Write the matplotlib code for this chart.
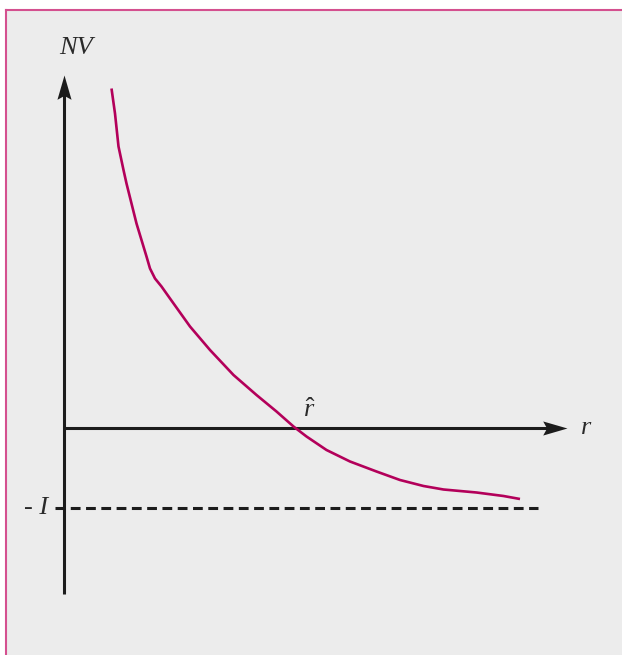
import matplotlib
matplotlib.use("Agg")
import matplotlib.pyplot as plt
from matplotlib.patches import Rectangle
from matplotlib.lines import Line2D
from matplotlib.path import Path

plt.rcParams['mathtext.fontset'] = 'custom'
plt.rcParams['mathtext.it'] = 'Liberation Serif:italic'
plt.rcParams['mathtext.rm'] = 'Liberation Serif'

# Net value curve NV(r), in arbitrary units
r_vals = [0.95, 1.02, 1.09, 1.19, 1.25, 1.35, 1.45, 1.55, 1.65, 1.72, 1.82,
          1.95, 2.12, 2.52, 2.92, 3.39, 3.85, 4.25, 4.59, 4.85, 5.25, 5.72,
          6.25, 6.72, 7.19, 7.59, 8.25, 8.79, 9.12]
nv_vals = [6.79, 6.29, 5.63, 5.16, 4.89, 4.49, 4.09, 3.76, 3.43, 3.19, 2.99,
           2.83, 2.59, 2.03, 1.56, 1.06, 0.66, 0.33, 0.03, -0.17, -0.44, -0.67,
           -0.87, -1.04, -1.16, -1.23, -1.29, -1.36, -1.42]
minus_I = -1.6
r_hat = 4.62
x_axis_end = 10.06
y_axis_top = 7.06
y_axis_bottom = -3.32
dash_end = 9.48
dash_start = -0.18

labels = {"y": "NV", "x": "r", "root": r"$\hat{r}$", "level": "- I"}

curve_color = "#b3005a"
axis_color = "#1c1c1c"
border_color = "#d4508f"
bg_color = "#ececec"

fig = plt.figure(figsize=(6.22, 6.55), dpi=100)
fig.patch.set_facecolor("white")
ax = fig.add_axes([0, 0, 1, 1])
ax.set_xlim(-1.28, 11.16)
ax.set_ylim(-4.54, 8.56)
ax.axis("off")

# panel background and border (axes fraction coordinates)
left = 6 / 622
top = 1 - 10 / 655
ax.add_patch(Rectangle((left, 0), 1 - left, top, transform=ax.transAxes,
                       facecolor=bg_color, edgecolor="none", zorder=0))
ax.add_line(Line2D([left, 1], [top, top], transform=ax.transAxes,
                   color=border_color, lw=1.5, zorder=1))
ax.add_line(Line2D([left, left], [0, top], transform=ax.transAxes,
                   color=border_color, lw=1.5, zorder=1))

# stealth arrowheads (tip at marker origin)
def stealth(direction):
    w, notch = 0.29, 0.84
    if direction == "up":
        pts = [(0, 0), (w, -1), (0, -notch), (-w, -1), (0, 0)]
    else:
        pts = [(0, 0), (-1, w), (-notch, 0), (-1, -w), (0, 0)]
    codes = [Path.MOVETO] + [Path.LINETO] * 3 + [Path.CLOSEPOLY]
    return Path(pts, codes)

ax.plot([0, 0], [y_axis_bottom, y_axis_top - 0.3], color=axis_color, lw=2.2,
        solid_capstyle="butt", zorder=2)
ax.plot([0, x_axis_end - 0.3], [0, 0], color=axis_color, lw=2.2,
        solid_capstyle="butt", zorder=2)
ax.plot([0], [y_axis_top], marker=stealth("up"), markersize=35,
        color=axis_color, markeredgewidth=0, zorder=2)
ax.plot([x_axis_end], [0], marker=stealth("right"), markersize=35,
        color=axis_color, markeredgewidth=0, zorder=2)

# -I dashed line
ax.plot([dash_start, dash_end], [minus_I, minus_I], color=axis_color, lw=2.2,
        dashes=(3.2, 1.8), zorder=2)

# curve
ax.plot(r_vals, nv_vals, color=curve_color, lw=1.9, zorder=3,
        solid_capstyle="butt", solid_joinstyle="round")

tkw = dict(fontfamily="Liberation Serif", fontstyle="italic", fontsize=19,
           color="#2a2a2a")
ax.text(0.24, 7.6, labels["y"], ha="center", va="center", **tkw)
ax.text(10.44, 0.0, labels["x"], ha="center", va="center", **tkw)
ax.text(r_hat + 0.29, 0.36, labels["root"], ha="center", va="center", **tkw)
ax.text(-0.32, minus_I, labels["level"], ha="right", va="center", **tkw)

fig.savefig("out.png", dpi=100, facecolor="white")
